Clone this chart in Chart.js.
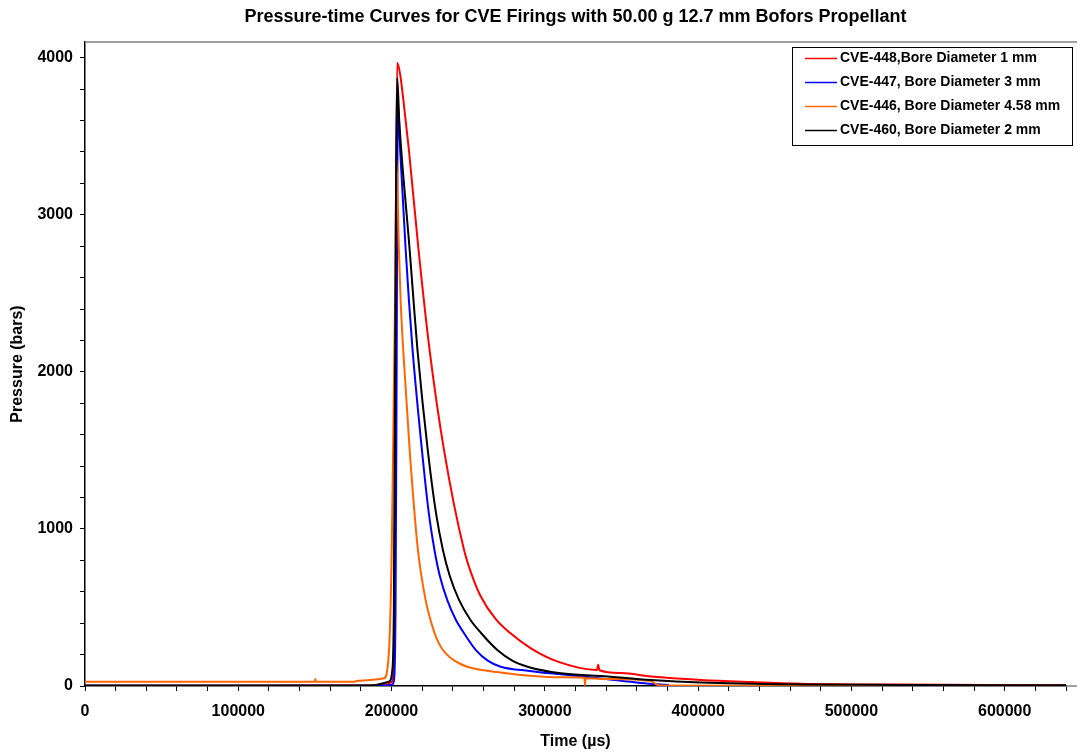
<!DOCTYPE html>
<html><head><meta charset="utf-8">
<script src="https://cdn.jsdelivr.net/npm/chart.js@4/dist/chart.umd.min.js"></script>
<style>html,body{margin:0;padding:0;background:#fff}#wrap{position:relative;width:1077px;height:756px}</style>
</head><body><div id="wrap"><canvas id="c" width="1077" height="756"></canvas></div>
<script>
// ---- data (time in µs, pressure in bars) ----
const titleText = 'Pressure-time Curves for CVE Firings with 50.00 g 12.7 mm Bofors Propellant';
const xTitle = 'Time (\u00b5s)';
const yTitle = 'Pressure (bars)';
const seriesLabels = ['CVE-448,Bore Diameter 1 mm','CVE-447, Bore Diameter 3 mm','CVE-446, Bore Diameter 4.58 mm','CVE-460, Bore Diameter 2 mm'];
const seriesColors = ['#FF0000','#0000FF','#FF6600','#000000'];

const redTime = [0,100000,180000,195000,200000,201500,202500,203000,203700,205500,207700,211300,217600,224800,234200,247300,253000,258200,268000,277000,290900,308500,334000,334800,335600,350000,369300,402000,434700,467300,532700,598000,640000];
const redP    = [2,2,3,5,25,150,1500,3200,3968,3900,3732,3414,2777,2140,1503,866,690,570,425,340,240,155,102,135,100,82,60,38,25,15,9,6,5];

const blueTime = [0,100000,180000,197000,200600,201600,202600,203300,203800,204100,205600,209200,211300,213700,219800,224300,228000,231500,236300,242000,247300,255000,263000,271200,290000,310500,336600,362700,381000];
const blueP    = [1,1,1,3,10,40,500,2000,3300,3722,3414,2777,2458,2140,1503,1100,866,700,548,420,336,229,160,123,96,74,48,19,6];

const orangeTime = [0,50000,100000,150000,150300,150600,176000,177600,195000,197200,198700,200000,201000,202300,203200,204800,205900,207600,211800,217200,222200,226000,229500,233500,239000,245000,249500,257000,266700,284300,310500,325800,326200,326600,336600,369300,372000,375000,434000,500000,640000];
const orangeP    = [27,27,27,27,45,27,27,34,49,102,300,800,1500,2500,3350,2777,2458,2140,1503,866,548,400,300,229,175,140,123,105,91,70,55,52,5,50,45,32,15,3,2,2,2];

const blackTime = [0,100000,180000,186300,198200,200500,201500,202300,203000,203700,205000,206300,211800,214300,216900,223600,229000,233500,238000,244000,251500,258500,269000,279000,288700,310500,336600,369300,402000,467300,532700,598000,640000];
const blackP    = [3,3,3,3,27,102,500,2000,3300,3871,3600,3414,2777,2458,2140,1503,1100,866,700,548,420,336,229,160,123,81,64,38,22,10,7,5,5];

const xMin = 0, xMax = 640000, xStep = 20000, xLabelEvery = 100000;
const yMin = 0, yMax = 4100, yStep = 200, yLabelEvery = 1000;

// ---- build ----
function pts(t, p){ return t.map((v,i)=>({x:v, y:p[i]})); }
const seriesData = [pts(redTime,redP), pts(blueTime,blueP), pts(orangeTime,orangeP), pts(blackTime,blackP)];
const drawOrder = [3,2,1,0];

const FONT = 'Arial, "Liberation Sans", sans-serif';

const centerTitle = {
  id:'centerTitle',
  afterLayout(chart){
    const tb = chart.titleBlock;
    if (tb) { tb.left = chart.chartArea.left; tb.right = chart.chartArea.right; tb.width = tb.right - tb.left; }
  }
};

const legendBox = {
  id:'legendBox',
  afterDraw(chart){
    const ctx = chart.ctx;
    const L = 792, T = 47, W = 280, H = 98;
    ctx.save();
    ctx.fillStyle = '#fff';
    ctx.fillRect(L, T, W, H);
    ctx.strokeStyle = '#000'; ctx.lineWidth = 1;
    ctx.strokeRect(L+0.5, T+0.5, W, H);
    ctx.font = 'bold 14px ' + FONT;
    ctx.textBaseline = 'middle';
    chart.data.datasets.forEach((ds,i)=>{
      const y = T + 11.5 + i*24;
      ctx.strokeStyle = ds.borderColor; ctx.lineWidth = 1.5;
      ctx.beginPath(); ctx.moveTo(805, y); ctx.lineTo(837, y); ctx.stroke();
      ctx.fillStyle = '#000';
      ctx.fillText(ds.label, 840, y);
    });
    ctx.restore();
  }
};

const frameExt = {
  id:'frameExt',
  afterDraw(chart){
    const {ctx, chartArea:a} = chart;
    ctx.save();
    ctx.strokeStyle = '#808080'; ctx.lineWidth = 1.5;
    ctx.beginPath(); ctx.moveTo(a.left, a.top); ctx.lineTo(chart.width, a.top); ctx.stroke();
    ctx.beginPath(); ctx.moveTo(a.right, a.bottom); ctx.lineTo(chart.width, a.bottom); ctx.stroke();
    ctx.restore();
  }
};

new Chart(document.getElementById('c'), {
  type: 'line',
  data: {
    datasets: seriesData.map((d,i)=>({
      label: seriesLabels[i], data: d, borderColor: seriesColors[i], backgroundColor: seriesColors[i],
      borderWidth: 2, pointRadius: 0, cubicInterpolationMode: 'monotone', fill: false, order: drawOrder[i]
    }))
  },
  options: {
    responsive: false, animation: false, devicePixelRatio: 1,
    layout: { padding: { left: 0, right: 10, top: 0, bottom: 0 } },
    plugins: {
      legend: { display: false },
      tooltip: { enabled: false },
      title: { display: true, text: titleText, color: '#000', font: { family: FONT, size: 18, weight: 'bold' }, padding: { top: 6, bottom: 14.4 } }
    },
    scales: {
      x: {
        type: 'linear', min: xMin, max: xMax,
        afterFit(s){ s.height = 70; },
        grid: { drawOnChartArea: false, drawTicks: true, tickLength: 5, color: '#000' },
        border: { display: true, color: '#000', width: 1.5 },
        ticks: { stepSize: xStep, autoSkip: false, maxRotation: 0, includeBounds: false, color: '#000', padding: 11,
                 font: { family: FONT, size: 16, weight: 'bold' },
                 callback: v => (v % xLabelEvery === 0 ? String(v) : '') },
        title: { display: true, text: xTitle, color: '#000', font: { family: FONT, size: 16, weight: 'bold' }, padding: { top: 5, bottom: 5 } }
      },
      y: {
        type: 'linear', min: yMin, max: yMax,
        afterFit(s){ s.width = 85; },
        grid: { drawOnChartArea: false, drawTicks: true, tickLength: 5, color: '#000' },
        border: { display: true, color: '#000', width: 1.5 },
        ticks: { stepSize: yStep, autoSkip: false, includeBounds: false, color: '#000', padding: 7,
                 font: { family: FONT, size: 16, weight: 'bold' },
                 callback: v => (v % yLabelEvery === 0 ? String(v) : '') },
        title: { display: true, text: yTitle, color: '#000', font: { family: FONT, size: 16, weight: 'bold' }, padding: { top: 8, bottom: 4 } }
      }
    }
  },
  plugins: [centerTitle, frameExt, legendBox]
});
</script>
</body></html>
